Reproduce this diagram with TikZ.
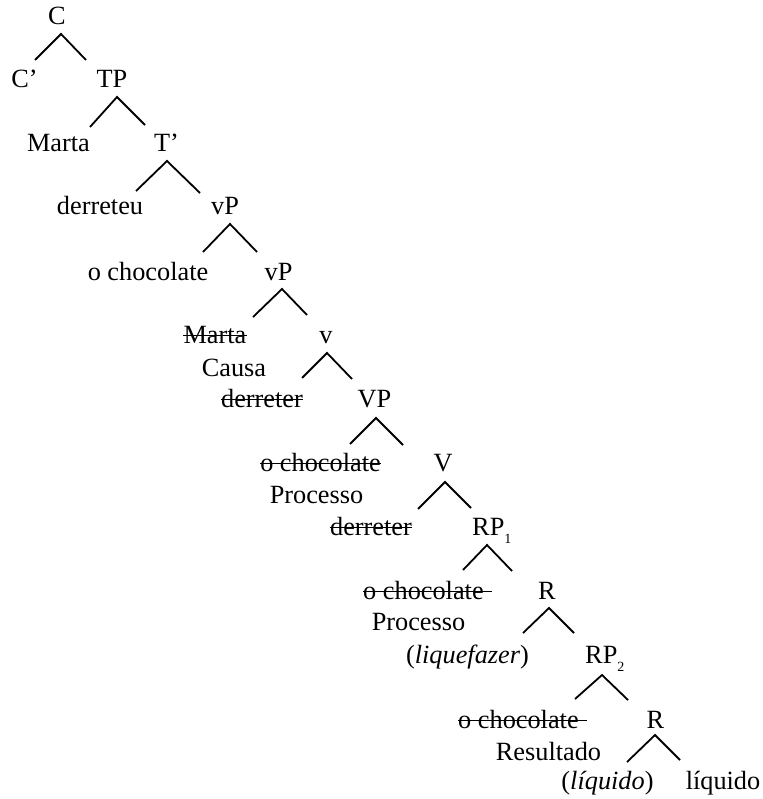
\documentclass[tikz,border=0pt]{standalone}
\usepackage{fontspec}
\setmainfont{Liberation Serif}
\begin{document}
\begin{tikzpicture}[x=1pt,y=-1pt,
  lab/.style={inner sep=0pt,anchor=base,font=\fontsize{26.3}{30}\selectfont},
  labw/.style={lab,anchor=base west},
  branch/.style={line width=1.8pt,line join=miter},
  strk/.style={line width=1.5pt}]
\useasboundingbox (0,0) rectangle (762,799);
\newcommand{\subn}[1]{\raisebox{-8.5pt}{\fontsize{14}{14}\selectfont #1}}
% labels
\node[lab] (C) at (57,25) {C};
\node[lab] (Cp) at (24.5,88) {C’};
\node[lab] (TP) at (112,88) {TP};
\node[lab] (Marta) at (58.5,152) {Marta};
\node[lab] (Tp) at (166.5,152) {T’};
\node[lab] (derreteu) at (100,215) {derreteu};
\node[lab] (vPa) at (225,215) {vP};
\node[lab] (choc) at (148,280) {o chocolate};
\node[lab] (vPb) at (278.5,280) {vP};
\node[lab] (MartaS) at (215,343) {Marta};
\node[lab] (v) at (326,343) {v};
\node[lab] (Causa) at (234,376) {Causa};
\node[lab] (derrS) at (262,407) {derreter};
\node[lab] (VP) at (374.5,407) {VP};
\node[lab] (chocS1) at (320.5,471) {o chocolate};
\node[lab] (V) at (443,471) {V};
\node[lab] (Proc1) at (316.5,503) {Processo};
\node[lab] (derrS2) at (371,535) {derreter};
\node[labw] (RPa) at (472,535) {RP\subn{1}};
\node[labw] (chocS2) at (363,599) {o chocolate};
\node[lab] (Ra) at (547,599) {R};
\node[lab] (Proc2) at (418.5,630) {Processo};
\node[lab] (liq) at (467.5,663) {(\textit{liquefazer})};
\node[labw] (RPb) at (585,663) {RP\subn{2}};
\node[labw] (chocS3) at (458,728) {o chocolate};
\node[lab] (Rb) at (655.5,728) {R};
\node[lab] (Res) at (548.5,760) {Resultado};
\node[lab] (liqa) at (607.5,789) {(\textit{líquido})};
\node[lab] (liqb) at (723,789) {líquido};
% strike-throughs
\foreach \n in {MartaS,derrS,chocS1,derrS2}
  \draw[strk] ([yshift=7.5pt]\n.base west) -- ([yshift=7.5pt]\n.base east);
\foreach \n in {chocS2,chocS3}
  \draw[strk] ([yshift=7.5pt]\n.base west) -- ([xshift=8pt,yshift=7.5pt]\n.base east);
% branch coordinates
\coordinate (aC) at (61,34);   \coordinate (lC) at (35,60);   \coordinate (rC) at (86,60);
\coordinate (aTP) at (117,97); \coordinate (lTP) at (90,127); \coordinate (rTP) at (145,125);
\coordinate (aTp) at (167,161);\coordinate (lTp) at (136,191);\coordinate (rTp) at (200,193);
\coordinate (avPa) at (230,224);\coordinate (lvPa) at (203,252);\coordinate (rvPa) at (257,252);
\coordinate (avPb) at (282,289);\coordinate (lvPb) at (253,317);\coordinate (rvPb) at (307,315);
\coordinate (av) at (327,353); \coordinate (lv) at (302,378); \coordinate (rv) at (352,379);
\coordinate (aVP) at (376,418);\coordinate (lVP) at (350,444);\coordinate (rVP) at (403,445);
\coordinate (aV) at (445,482); \coordinate (lV) at (418,509); \coordinate (rV) at (471,508);
\coordinate (aRPa) at (487,545);\coordinate (lRPa) at (463,570);\coordinate (rRPa) at (512,571);
\coordinate (aRa) at (549,608);\coordinate (lRa) at (523,633);\coordinate (rRa) at (574,633);
\coordinate (aRPb) at (602,675);\coordinate (lRPb) at (575,699);\coordinate (rRPb) at (628,700);
\coordinate (aRb) at (655,735);\coordinate (lRb) at (627,762);\coordinate (rRb) at (680,760);
\foreach \b in {C,TP,Tp,vPa,vPb,v,VP,V,RPa,Ra,RPb,Rb}
  \draw[branch] (l\b) -- (a\b) -- (r\b);
\end{tikzpicture}
\end{document}
